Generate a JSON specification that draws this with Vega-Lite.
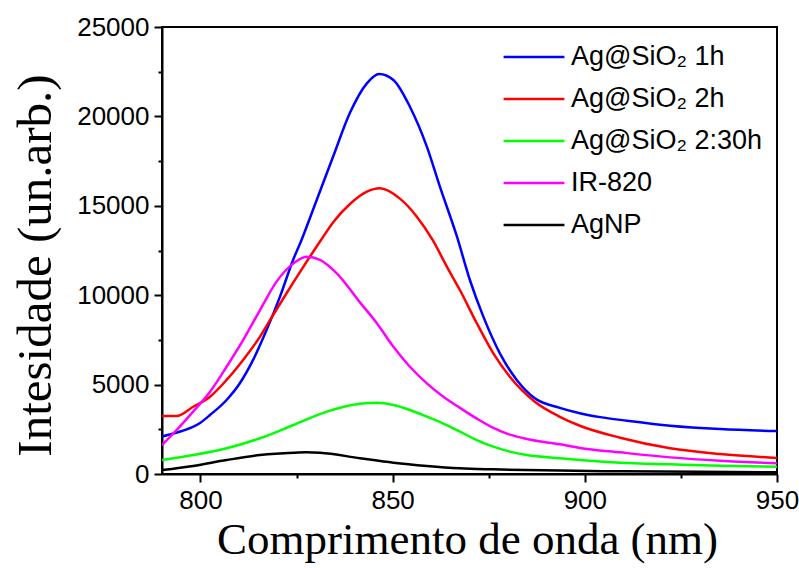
{
  "$schema": "https://vega.github.io/schema/vega-lite/v6.json",
  "width": 615,
  "height": 447,
  "autosize": {"type": "none"},
  "padding": {"left": 162, "top": 27, "right": 22, "bottom": 94},
  "background": "white",
  "config": {
    "view": {"stroke": "black", "strokeWidth": 2},
    "axis": {
      "grid": false,
      "domainColor": "black",
      "domainWidth": 2,
      "tickColor": "black",
      "tickWidth": 2,
      "labelFont": "Liberation Sans",
      "labelFontSize": 26,
      "labelColor": "black",
      "titleFont": "Liberation Serif",
      "titleFontWeight": "normal",
      "titleColor": "black"
    }
  },
  "data": {
    "values": [
      {"s": "Ag@SiO₂ 1h", "x": 790, "y": 2100},
      {"s": "Ag@SiO₂ 1h", "x": 793.4, "y": 2290},
      {"s": "Ag@SiO₂ 1h", "x": 799.9, "y": 2850},
      {"s": "Ag@SiO₂ 1h", "x": 802.5, "y": 3300},
      {"s": "Ag@SiO₂ 1h", "x": 806.8, "y": 4140},
      {"s": "Ag@SiO₂ 1h", "x": 810.3, "y": 5090},
      {"s": "Ag@SiO₂ 1h", "x": 813.7, "y": 6380},
      {"s": "Ag@SiO₂ 1h", "x": 817.2, "y": 8050},
      {"s": "Ag@SiO₂ 1h", "x": 820.7, "y": 9920},
      {"s": "Ag@SiO₂ 1h", "x": 824.1, "y": 11970},
      {"s": "Ag@SiO₂ 1h", "x": 826.3, "y": 13090},
      {"s": "Ag@SiO₂ 1h", "x": 830.2, "y": 15300},
      {"s": "Ag@SiO₂ 1h", "x": 834.6, "y": 17800},
      {"s": "Ag@SiO₂ 1h", "x": 838.9, "y": 20200},
      {"s": "Ag@SiO₂ 1h", "x": 843.3, "y": 21850},
      {"s": "Ag@SiO₂ 1h", "x": 846.5, "y": 22370},
      {"s": "Ag@SiO₂ 1h", "x": 850.2, "y": 22040},
      {"s": "Ag@SiO₂ 1h", "x": 854.5, "y": 20540},
      {"s": "Ag@SiO₂ 1h", "x": 858.9, "y": 18310},
      {"s": "Ag@SiO₂ 1h", "x": 862.3, "y": 16070},
      {"s": "Ag@SiO₂ 1h", "x": 866.7, "y": 13300},
      {"s": "Ag@SiO₂ 1h", "x": 870.1, "y": 10850},
      {"s": "Ag@SiO₂ 1h", "x": 873.6, "y": 8800},
      {"s": "Ag@SiO₂ 1h", "x": 877.9, "y": 6750},
      {"s": "Ag@SiO₂ 1h", "x": 882.3, "y": 5260},
      {"s": "Ag@SiO₂ 1h", "x": 887.0, "y": 4230},
      {"s": "Ag@SiO₂ 1h", "x": 893.5, "y": 3700},
      {"s": "Ag@SiO₂ 1h", "x": 898.7, "y": 3400},
      {"s": "Ag@SiO₂ 1h", "x": 904.0, "y": 3180},
      {"s": "Ag@SiO₂ 1h", "x": 911.0, "y": 2980},
      {"s": "Ag@SiO₂ 1h", "x": 922.2, "y": 2700},
      {"s": "Ag@SiO₂ 1h", "x": 935.2, "y": 2510},
      {"s": "Ag@SiO₂ 1h", "x": 950, "y": 2400},

      {"s": "Ag@SiO₂ 2h", "x": 790, "y": 3250},
      {"s": "Ag@SiO₂ 2h", "x": 793.8, "y": 3250},
      {"s": "Ag@SiO₂ 2h", "x": 798.1, "y": 3760},
      {"s": "Ag@SiO₂ 2h", "x": 802.5, "y": 4320},
      {"s": "Ag@SiO₂ 2h", "x": 806.8, "y": 5260},
      {"s": "Ag@SiO₂ 2h", "x": 811.1, "y": 6380},
      {"s": "Ag@SiO₂ 2h", "x": 815.5, "y": 7680},
      {"s": "Ag@SiO₂ 2h", "x": 818.1, "y": 8610},
      {"s": "Ag@SiO₂ 2h", "x": 822.4, "y": 10110},
      {"s": "Ag@SiO₂ 2h", "x": 826.8, "y": 11600},
      {"s": "Ag@SiO₂ 2h", "x": 831.1, "y": 13000},
      {"s": "Ag@SiO₂ 2h", "x": 834.6, "y": 14100},
      {"s": "Ag@SiO₂ 2h", "x": 838.9, "y": 15100},
      {"s": "Ag@SiO₂ 2h", "x": 843.3, "y": 15790},
      {"s": "Ag@SiO₂ 2h", "x": 846.7, "y": 15980},
      {"s": "Ag@SiO₂ 2h", "x": 851.9, "y": 15400},
      {"s": "Ag@SiO₂ 2h", "x": 856.3, "y": 14390},
      {"s": "Ag@SiO₂ 2h", "x": 860.4, "y": 13090},
      {"s": "Ag@SiO₂ 2h", "x": 864.1, "y": 11600},
      {"s": "Ag@SiO₂ 2h", "x": 867.5, "y": 10290},
      {"s": "Ag@SiO₂ 2h", "x": 871.9, "y": 8430},
      {"s": "Ag@SiO₂ 2h", "x": 876.2, "y": 6750},
      {"s": "Ag@SiO₂ 2h", "x": 880.5, "y": 5440},
      {"s": "Ag@SiO₂ 2h", "x": 887.0, "y": 4040},
      {"s": "Ag@SiO₂ 2h", "x": 893.5, "y": 3200},
      {"s": "Ag@SiO₂ 2h", "x": 898.7, "y": 2700},
      {"s": "Ag@SiO₂ 2h", "x": 909.2, "y": 2030},
      {"s": "Ag@SiO₂ 2h", "x": 922.2, "y": 1440},
      {"s": "Ag@SiO₂ 2h", "x": 935.2, "y": 1120},
      {"s": "Ag@SiO₂ 2h", "x": 950, "y": 900},

      {"s": "\u00a0Ag@SiO₂ 2:30h", "x": 790, "y": 780},
      {"s": "\u00a0Ag@SiO₂ 2:30h", "x": 798.1, "y": 1060},
      {"s": "\u00a0Ag@SiO₂ 2:30h", "x": 806.8, "y": 1440},
      {"s": "\u00a0Ag@SiO₂ 2:30h", "x": 815.5, "y": 2000},
      {"s": "\u00a0Ag@SiO₂ 2:30h", "x": 824.2, "y": 2740},
      {"s": "\u00a0Ag@SiO₂ 2:30h", "x": 832.9, "y": 3490},
      {"s": "\u00a0Ag@SiO₂ 2:30h", "x": 841.5, "y": 3930},
      {"s": "\u00a0Ag@SiO₂ 2:30h", "x": 845.9, "y": 3990},
      {"s": "\u00a0Ag@SiO₂ 2:30h", "x": 850.2, "y": 3860},
      {"s": "\u00a0Ag@SiO₂ 2:30h", "x": 854.5, "y": 3580},
      {"s": "\u00a0Ag@SiO₂ 2:30h", "x": 858.9, "y": 3210},
      {"s": "\u00a0Ag@SiO₂ 2:30h", "x": 863.2, "y": 2820},
      {"s": "\u00a0Ag@SiO₂ 2:30h", "x": 867.5, "y": 2370},
      {"s": "\u00a0Ag@SiO₂ 2:30h", "x": 871.9, "y": 1900},
      {"s": "\u00a0Ag@SiO₂ 2:30h", "x": 876.2, "y": 1530},
      {"s": "\u00a0Ag@SiO₂ 2:30h", "x": 880.5, "y": 1250},
      {"s": "\u00a0Ag@SiO₂ 2:30h", "x": 884.9, "y": 1060},
      {"s": "\u00a0Ag@SiO₂ 2:30h", "x": 893.5, "y": 880},
      {"s": "\u00a0Ag@SiO₂ 2:30h", "x": 909.2, "y": 630},
      {"s": "\u00a0Ag@SiO₂ 2:30h", "x": 922.2, "y": 540},
      {"s": "\u00a0Ag@SiO₂ 2:30h", "x": 935.2, "y": 460},
      {"s": "\u00a0Ag@SiO₂ 2:30h", "x": 950, "y": 410},

      {"s": "IR-820", "x": 790, "y": 1620},
      {"s": "IR-820", "x": 793.8, "y": 2460},
      {"s": "IR-820", "x": 798.1, "y": 3490},
      {"s": "IR-820", "x": 802.5, "y": 4600},
      {"s": "IR-820", "x": 806.8, "y": 6000},
      {"s": "IR-820", "x": 811.1, "y": 7490},
      {"s": "IR-820", "x": 815.5, "y": 9170},
      {"s": "IR-820", "x": 819.8, "y": 10760},
      {"s": "IR-820", "x": 824.2, "y": 11780},
      {"s": "IR-820", "x": 827.6, "y": 12150},
      {"s": "IR-820", "x": 831.1, "y": 11970},
      {"s": "IR-820", "x": 835.4, "y": 11230},
      {"s": "IR-820", "x": 841.5, "y": 9600},
      {"s": "IR-820", "x": 845.9, "y": 8430},
      {"s": "IR-820", "x": 850.2, "y": 7120},
      {"s": "IR-820", "x": 854.5, "y": 6000},
      {"s": "IR-820", "x": 858.9, "y": 5070},
      {"s": "IR-820", "x": 863.2, "y": 4320},
      {"s": "IR-820", "x": 867.5, "y": 3700},
      {"s": "IR-820", "x": 871.9, "y": 3100},
      {"s": "IR-820", "x": 876.2, "y": 2580},
      {"s": "IR-820", "x": 880.5, "y": 2200},
      {"s": "IR-820", "x": 884.9, "y": 1960},
      {"s": "IR-820", "x": 893.5, "y": 1660},
      {"s": "IR-820", "x": 898.7, "y": 1460},
      {"s": "IR-820", "x": 909.2, "y": 1210},
      {"s": "IR-820", "x": 922.2, "y": 930},
      {"s": "IR-820", "x": 935.2, "y": 740},
      {"s": "IR-820", "x": 950, "y": 600},

      {"s": "AgNP", "x": 790, "y": 220},
      {"s": "AgNP", "x": 798.1, "y": 450},
      {"s": "AgNP", "x": 806.8, "y": 780},
      {"s": "AgNP", "x": 815.5, "y": 1060},
      {"s": "AgNP", "x": 824.2, "y": 1190},
      {"s": "AgNP", "x": 827.5, "y": 1210},
      {"s": "AgNP", "x": 831.1, "y": 1190},
      {"s": "AgNP", "x": 841.5, "y": 880},
      {"s": "AgNP", "x": 850.2, "y": 630},
      {"s": "AgNP", "x": 858.9, "y": 450},
      {"s": "AgNP", "x": 867.5, "y": 320},
      {"s": "AgNP", "x": 876.2, "y": 260},
      {"s": "AgNP", "x": 893.5, "y": 190},
      {"s": "AgNP", "x": 910, "y": 150},
      {"s": "AgNP", "x": 930, "y": 120},
      {"s": "AgNP", "x": 950, "y": 100}
    ]
  },
  "mark": {"type": "line", "strokeWidth": 2.5, "interpolate": "monotone", "clip": true},
  "encoding": {
    "x": {
      "field": "x",
      "type": "quantitative",
      "scale": {"domain": [790, 950], "nice": false, "zero": false},
      "axis": {
        "title": "Comprimento de onda (nm)",
        "titleFontSize": 45,
        "titlePadding": 4,
        "titleX": 305,
        "values": [800, 825, 850, 875, 900, 925, 950],
        "labelExpr": "datum.value % 50 === 0 ? datum.label : ''",
        "format": "d",
        "tickSize": {"condition": {"test": "datum.value % 50 !== 0", "value": 4}, "value": 8},
        "labelPadding": 5,
        "labelFlush": false
      }
    },
    "y": {
      "field": "y",
      "type": "quantitative",
      "scale": {"domain": [0, 25000], "nice": false},
      "axis": {
        "title": "Intesidade (un.arb.)",
        "titleFontSize": 49,
        "titlePadding": 16,
        "titleY": 238,
        "values": [0, 2500, 5000, 7500, 10000, 12500, 15000, 17500, 20000, 22500, 25000],
        "labelExpr": "datum.value % 5000 === 0 ? datum.label : ''",
        "format": "d",
        "tickSize": {"condition": {"test": "datum.value % 5000 !== 0", "value": 4}, "value": 8},
        "labelPadding": 5,
        "labelFlush": false
      }
    },
    "color": {
      "field": "s",
      "type": "nominal",
      "sort": null,
      "scale": {
        "domain": ["Ag@SiO₂ 1h", "Ag@SiO₂ 2h", "\u00a0Ag@SiO₂ 2:30h", "IR-820", "AgNP"],
        "range": ["#0000ff", "#ff0000", "#00ff00", "#ff00ff", "#000000"]
      },
      "legend": {
        "title": null,
        "orient": "none",
        "legendX": 340,
        "legendY": 10,
        "symbolType": "stroke",
        "symbolStrokeWidth": 2.5,
        "symbolSize": 3700,
        "labelFont": "Liberation Sans",
        "labelFontSize": 27,
        "labelColor": "black",
        "labelOffset": 5,
        "labelLimit": 300,
        "clipHeight": 40,
        "rowPadding": 2
      }
    }
  }
}
